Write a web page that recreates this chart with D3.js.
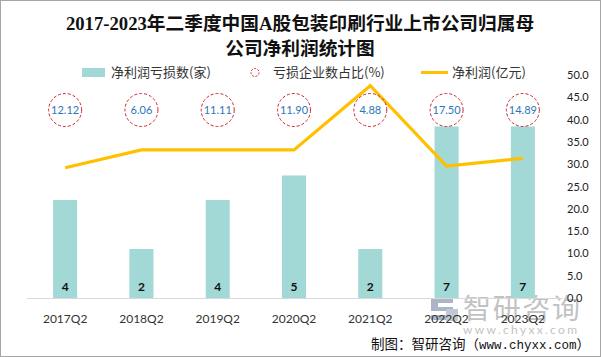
<!DOCTYPE html>
<html><head><meta charset="utf-8">
<script src="https://cdn.jsdelivr.net/npm/d3@7/dist/d3.min.js"></script>
<style>body{margin:0;background:#fff}svg{display:block}</style>
</head><body>
<svg id="c" width="601" height="357"></svg>
<script>
const categories=["2017Q2","2018Q2","2019Q2","2020Q2","2021Q2","2022Q2","2023Q2"];
const lossCount=[4,2,4,5,2,7,7];
const lossRatio=[12.12,6.06,11.11,11.90,4.88,17.50,14.89];
const netProfit=[29.2,33.2,33.2,33.2,47.6,29.6,31.3];
const rightTicks=[0,5,10,15,20,25,30,35,40,45,50];
const titleLines=["2017-2023年二季度中国A股包装印刷行业上市公司归属母","公司净利润统计图"];
const legendLabels=["净利润亏损数(家)","亏损企业数占比(%)","净利润(亿元)"];

const svg=d3.select("#c");
const W=601,H=357;
const barColor="#A2D8D5", lineColor="#FFC000", ringColor="#D0202E", ratioColor="#2E75B6";
const sans="'Noto Sans CJK SC','Noto Sans',sans-serif";
const num="Lato,'Noto Sans',sans-serif";

svg.append("rect").attr("x",0.5).attr("y",0.5).attr("width",W-1).attr("height",H-1)
  .attr("fill","#fff").attr("stroke","#a6a6a6");

// watermark
const wm=svg.append("g").attr("opacity",0.7);
wm.append("path").attr("d","M431,298h22v5h-15v4h15v13h-22v-5h15v-4h-15z").attr("fill","#8a97ad");
wm.append("rect").attr("x",446).attr("y",309).attr("width",12).attr("height",12).attr("fill","#aab3c2");
wm.append("text").attr("x",463).attr("y",319).attr("font-family",sans).attr("font-size",28)
  .attr("fill","#a9a9a9").attr("textLength",117).text("智研咨询");
wm.append("text").attr("x",463).attr("y",334).attr("font-family",num).attr("font-size",12)
  .attr("fill","#a9a9a9").attr("textLength",114).text("www.chyxx.com");

const x=d3.scaleBand().domain(categories).range([27,561]);
const bw=x.bandwidth()*0.315;
const yL=d3.scaleLinear().domain([0,9.1]).range([298,75]);
const yR=d3.scaleLinear().domain([0,50]).range([298,75]);
const cx=c=>x(c)+x.bandwidth()/2;

// title
svg.append("g").selectAll("text").data(titleLines).join("text")
  .attr("x",300).attr("y",(d,i)=>30+i*25).attr("text-anchor","middle")
  .attr("font-family","'Liberation Serif','Noto Sans CJK SC',serif").attr("font-weight","bold")
  .attr("font-size",18.7).attr("fill","#111").text(d=>d);

// legend
const lg=svg.append("g").attr("font-family",sans).attr("font-size",13).attr("fill","#333");
lg.append("rect").attr("x",82).attr("y",68).attr("width",23).attr("height",9).attr("fill",barColor);
lg.append("text").attr("x",111).attr("y",77).attr("fill","#333").text(legendLabels[0]);
lg.append("circle").attr("cx",255).attr("cy",72.5).attr("r",4).attr("fill","none")
  .attr("stroke",ringColor).attr("stroke-dasharray","2,1.5");
lg.append("text").attr("x",273).attr("y",77).attr("fill","#333").text(legendLabels[1]);
lg.append("line").attr("x1",421).attr("x2",448).attr("y1",72.5).attr("y2",72.5)
  .attr("stroke",lineColor).attr("stroke-width",3);
lg.append("text").attr("x",452).attr("y",77).attr("fill","#333").text(legendLabels[2]);

// right axis
const ra=svg.append("g").attr("transform","translate(565,0)")
  .call(d3.axisRight(yR).tickValues(rightTicks).tickFormat(d3.format(".1f")).tickSize(0).tickPadding(2));
ra.select(".domain").remove();
ra.selectAll("text").attr("font-family",num).attr("font-size",11).attr("fill","#222");

// bars
svg.append("g").selectAll("rect").data(categories).join("rect")
  .attr("x",c=>cx(c)-bw/2).attr("width",bw)
  .attr("y",(c,i)=>yL(lossCount[i])).attr("height",(c,i)=>yL(0)-yL(lossCount[i]))
  .attr("fill",barColor);

// x axis
const xa=svg.append("g").attr("transform","translate(0,298)")
  .call(d3.axisBottom(x).tickSize(0).tickPadding(16));
xa.select(".domain").attr("stroke","#d9d9d9").attr("d","M27,0.5H563");
xa.selectAll("text").attr("font-family",num).attr("font-size",12).attr("fill","#333");

// bar labels
svg.append("g").selectAll("text").data(categories).join("text")
  .attr("x",cx).attr("y",291).attr("text-anchor","middle")
  .attr("font-family",num).attr("font-weight","bold").attr("font-size",12).attr("fill","#111")
  .text((c,i)=>lossCount[i]);

// line
svg.append("path").datum(netProfit)
  .attr("d",d3.line().x((d,i)=>cx(categories[i])).y(d=>yR(d)))
  .attr("fill","none").attr("stroke",lineColor).attr("stroke-width",3.2).attr("stroke-linejoin","miter");

// ratio circles
const rg=svg.append("g").selectAll("g").data(categories).join("g")
  .attr("transform",c=>`translate(${cx(c)},110)`);
rg.append("circle").attr("r",16.5).attr("fill","none").attr("stroke",ringColor)
  .attr("stroke-width",1).attr("stroke-dasharray","3,2");
rg.append("text").attr("y",4).attr("text-anchor","middle").attr("font-family",num)
  .attr("font-size",11).attr("fill",ratioColor).text((c,i)=>lossRatio[i].toFixed(2));

// footer
const ft=svg.append("text").attr("x",590).attr("y",349).attr("text-anchor","end").attr("fill","#111");
ft.append("tspan").attr("font-family",sans).attr("font-size",13.5).text("制图：智研咨询（");
ft.append("tspan").attr("font-family","'Liberation Mono',monospace").attr("font-size",12.5).text("www.chyxx.com");
ft.append("tspan").attr("font-family",sans).attr("font-size",13.5).text("）");
</script>
</body></html>
